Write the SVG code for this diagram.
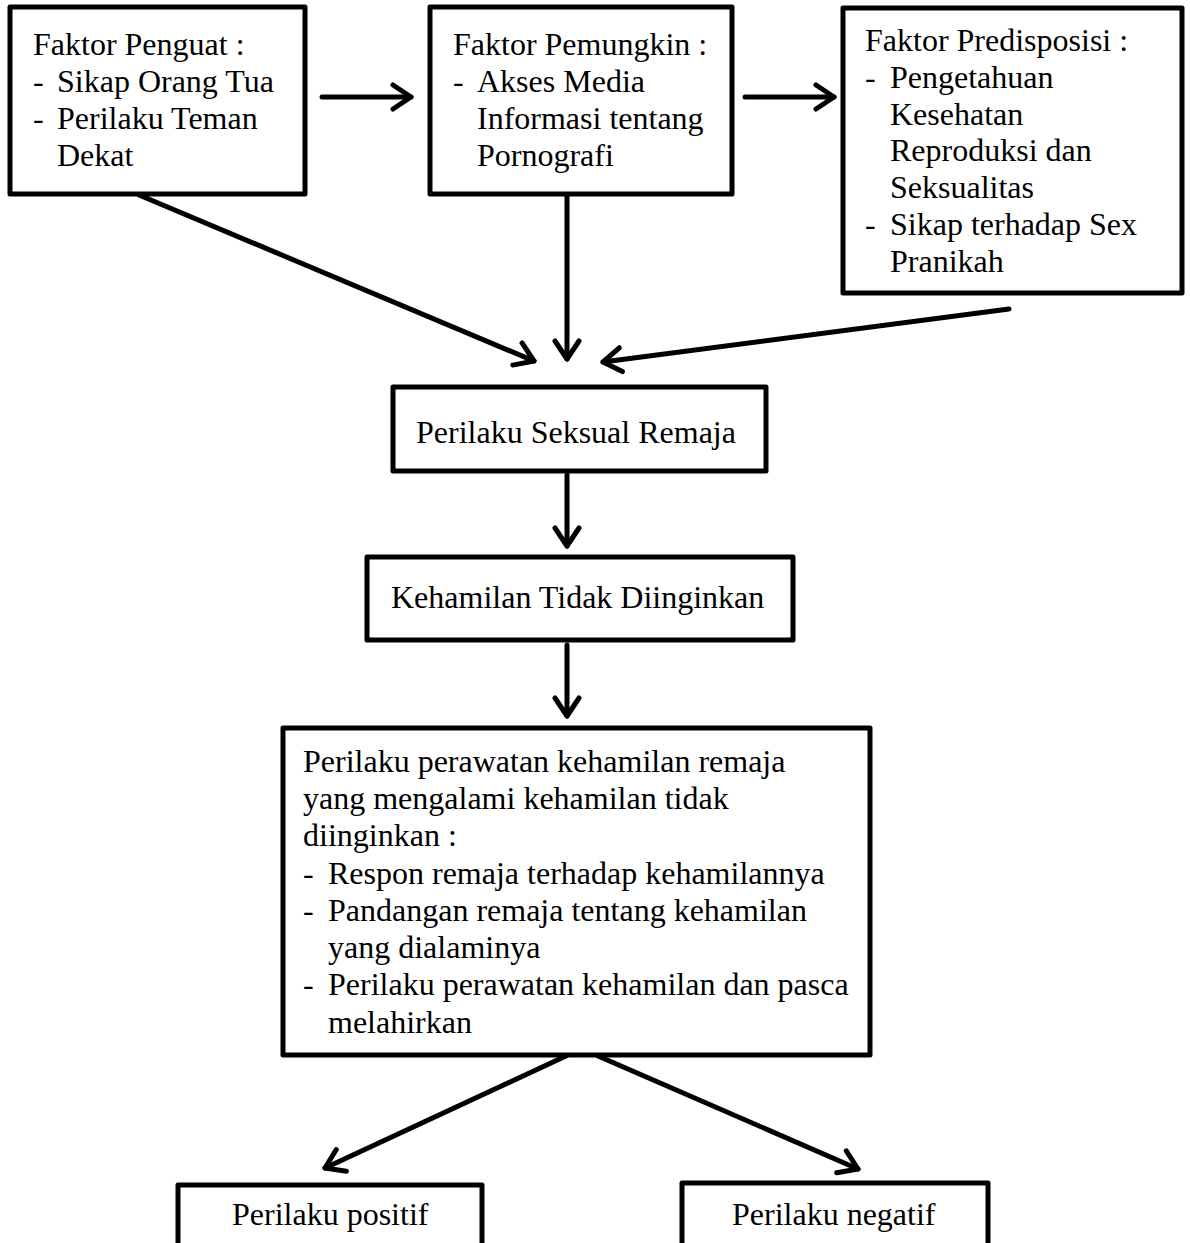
<svg xmlns="http://www.w3.org/2000/svg" width="1190" height="1243" viewBox="0 0 1190 1243">
<style>
.box{fill:#fff;stroke:#000;stroke-width:5;stroke-linejoin:round}
.t{font-family:"Liberation Serif","Times New Roman",serif;font-size:32px;fill:#000}
.c{stroke:#000;stroke-width:5;stroke-linecap:round;fill:none}
</style>
<defs>
<marker id="ah" markerUnits="userSpaceOnUse" viewBox="-24 -16 28 32" markerWidth="28" markerHeight="32" refX="0" refY="0" orient="auto" overflow="visible">
<path d="M-18,-12 L0,0 L-18,12" fill="none" stroke="#000" stroke-width="5" stroke-linecap="round" stroke-linejoin="round"/>
</marker>
</defs>
<rect width="1190" height="1243" fill="#fff"/>
<g id="connectors">
<line class="c" x1="322" y1="97" x2="411" y2="97" marker-end="url(#ah)"/>
<line class="c" x1="745" y1="97" x2="834" y2="97" marker-end="url(#ah)"/>
<line class="c" x1="139" y1="195" x2="534" y2="361" marker-end="url(#ah)"/>
<line class="c" x1="567" y1="196" x2="567" y2="359" marker-end="url(#ah)"/>
<line class="c" x1="1009" y1="309" x2="603" y2="362" marker-end="url(#ah)"/>
<line class="c" x1="567" y1="475" x2="567" y2="546" marker-end="url(#ah)"/>
<line class="c" x1="567" y1="645" x2="567" y2="716" marker-end="url(#ah)"/>
<line class="c" x1="566" y1="1056" x2="325" y2="1168" marker-end="url(#ah)"/>
<line class="c" x1="598" y1="1056" x2="858" y2="1169" marker-end="url(#ah)"/>
</g>
<g id="penguat">
<rect class="box" x="10" y="7" width="295" height="187"/>
<text class="t" x="33" y="55">Faktor Penguat :</text>
<text class="t" x="33" y="92">-</text><text class="t" x="57" y="92">Sikap Orang Tua</text>
<text class="t" x="33" y="129">-</text><text class="t" x="57" y="129">Perilaku Teman</text>
<text class="t" x="57" y="166">Dekat</text>
</g>
<g id="pemungkin">
<rect class="box" x="430" y="7" width="302" height="187"/>
<text class="t" x="453" y="55">Faktor Pemungkin :</text>
<text class="t" x="453" y="92">-</text><text class="t" x="477" y="92">Akses Media</text>
<text class="t" x="477" y="129">Informasi tentang</text>
<text class="t" x="477" y="166">Pornografi</text>
</g>
<g id="predisposisi">
<rect class="box" x="843" y="8" width="339" height="285"/>
<text class="t" x="865" y="51">Faktor Predisposisi :</text>
<text class="t" x="865" y="88">-</text><text class="t" x="890" y="88">Pengetahuan</text>
<text class="t" x="890" y="125">Kesehatan</text>
<text class="t" x="890" y="161">Reproduksi dan</text>
<text class="t" x="890" y="198">Seksualitas</text>
<text class="t" x="865" y="235">-</text><text class="t" x="890" y="235">Sikap terhadap Sex</text>
<text class="t" x="890" y="272">Pranikah</text>
</g>
<g id="seksual">
<rect class="box" x="393" y="387" width="373" height="84"/>
<text class="t" x="416" y="443">Perilaku Seksual Remaja</text>
</g>
<g id="ktd">
<rect class="box" x="367" y="557" width="426" height="83"/>
<text class="t" x="391" y="608">Kehamilan Tidak Diinginkan</text>
</g>
<g id="perawatan">
<rect class="box" x="283" y="728" width="587" height="327"/>
<text class="t" x="303" y="772">Perilaku perawatan kehamilan remaja</text>
<text class="t" x="303" y="809">yang mengalami kehamilan tidak</text>
<text class="t" x="303" y="846">diinginkan :</text>
<text class="t" x="303" y="884">-</text><text class="t" x="328" y="884">Respon remaja terhadap kehamilannya</text>
<text class="t" x="303" y="921">-</text><text class="t" x="328" y="921">Pandangan remaja tentang kehamilan</text>
<text class="t" x="328" y="958">yang dialaminya</text>
<text class="t" x="303" y="995">-</text><text class="t" x="328" y="995">Perilaku perawatan kehamilan dan pasca</text>
<text class="t" x="328" y="1033">melahirkan</text>
</g>
<g id="positif">
<rect class="box" x="178" y="1185" width="304" height="80"/>
<text class="t" x="232" y="1225">Perilaku positif</text>
</g>
<g id="negatif">
<rect class="box" x="682" y="1183" width="306" height="82"/>
<text class="t" x="732" y="1225">Perilaku negatif</text>
</g>
</svg>
